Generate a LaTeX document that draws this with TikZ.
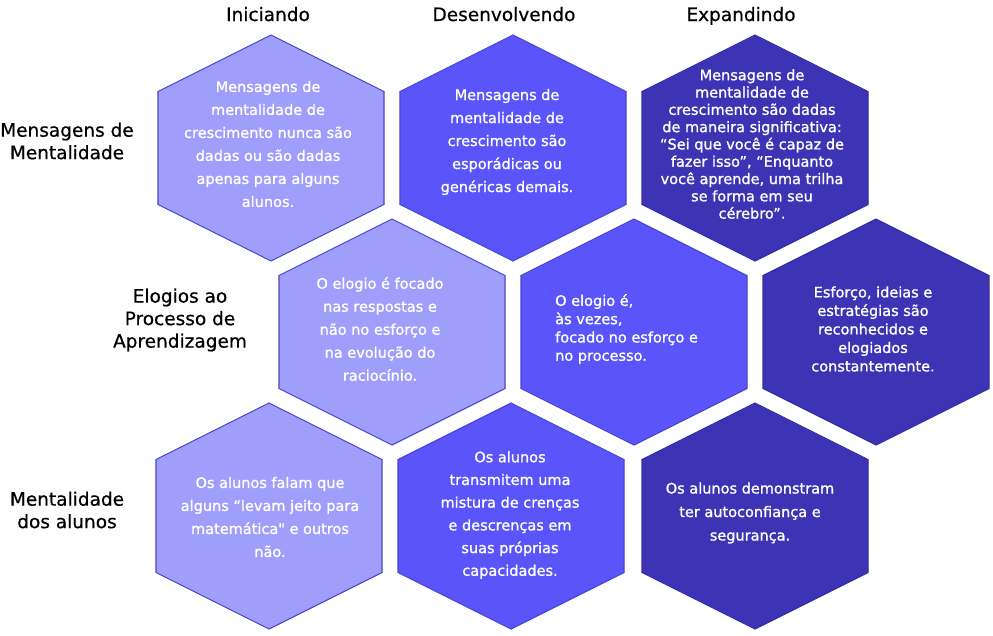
\documentclass[tikz,border=0pt]{standalone}
\usepackage{fontspec}
\setmainfont{DejaVu Sans}
\newfontfamily\cellfont{DejaVu Sans}[FakeBold=1.2]
\newfontfamily\labelfont{DejaVu Sans}[FakeBold=0.6]
\definecolor{hexlight}{HTML}{9F9EFB}
\definecolor{hexmid}{HTML}{5955FA}
\definecolor{hexdark}{HTML}{3C34B4}
\definecolor{edgelight}{HTML}{4B47C8}
\definecolor{edgemid}{HTML}{4844D2}
\definecolor{edgedark}{HTML}{352EA6}
\tikzset{
  hexcell/.style={line width=1.1pt, line join=miter},
  celltext/.style={text=white, align=center, font=\cellfont\fontsize{14.5}{23}\selectfont, inner sep=0pt},
  rowlabel/.style={align=center, font=\labelfont\fontsize{18.5}{22.5}\selectfont, inner sep=0pt},
  collabel/.style={anchor=base, font=\labelfont\fontsize{18.5}{22.5}\selectfont, inner sep=0pt}
}
\begin{document}
\begin{tikzpicture}[x=1pt,y=-1pt]
      \useasboundingbox (0,0) rectangle (993,635);
      \foreach \cx/\cy/\fc/\dc in {271/148/hexlight/edgelight, 513/148/hexmid/edgemid, 755/148/hexdark/edgedark,
                                   392/332/hexlight/edgelight, 634/332/hexmid/edgemid, 876/332/hexdark/edgedark,
                                   269/516/hexlight/edgelight, 511/516/hexmid/edgemid, 755/516/hexdark/edgedark}
        \draw[hexcell, fill=\fc, draw=\dc, shift={(\cx,\cy)}]
          (0,-113) -- (113,-56.5) -- (113,56.5) -- (0,113) -- (-113,56.5) -- (-113,-56.5) -- cycle;
      % column headers
      \node[collabel] (iniciando) at (268,21) {Iniciando};
      \node[collabel] (desenvolvendo) at (504,21) {Desenvolvendo};
      \node[collabel] (expandindo) at (741,21) {Expandindo};
      % row headers
      \node[rowlabel] (mensagens) at (67,141) {Mensagens de\\Mentalidade};
      \node[rowlabel] (elogios) at (180,320) {Elogios ao\\Processo de\\Aprendizagem};
      \node[rowlabel] (mentalidade) at (67,510) {Mentalidade\\dos alunos};
      % cells
      \node[celltext] (m1) at (268,144) {Mensagens de\\mentalidade de\\crescimento nunca são\\dadas ou são dadas\\apenas para alguns\\alunos.};
      \node[celltext] (m2) at (507,142) {Mensagens de\\mentalidade de\\crescimento são\\esporádicas ou\\genéricas demais.};
      \node[celltext, font=\cellfont\fontsize{14.5}{17.3}\selectfont] (m3) at (752,144) {Mensagens de\\mentalidade de\\crescimento são dadas\\de maneira significativa:\\“Sei que você é capaz de\\fazer isso”, “Enquanto\\você aprende, uma trilha\\se forma em seu\\cérebro”.};
      \node[celltext] (e1) at (380,329) {O elogio é focado\\nas respostas e\\não no esforço e\\na evolução do\\raciocínio.};
      \node[celltext, align=left, anchor=west, font=\cellfont\fontsize{14.5}{18.3}\selectfont] (e2) at (555,329) {O elogio é,\\às vezes,\\focado no esforço e\\no processo.};
      \node[celltext, font=\cellfont\fontsize{14.5}{18.5}\selectfont] (e3) at (873,329) {Esforço, ideias e\\estratégias são\\reconhecidos e\\elogiados\\constantemente.};
      \node[celltext] (a1) at (270,517) {Os alunos falam que\\alguns “levam jeito para\\matemática{\char34} e outros\\não.};
      \node[celltext, font=\cellfont\fontsize{14.5}{22.7}\selectfont] (a2) at (510,515) {Os alunos\\transmitem uma\\mistura de crenças\\e descrenças em\\suas próprias\\capacidades.};
      \node[celltext, font=\cellfont\fontsize{14.5}{23.5}\selectfont] (a3) at (750,513) {Os alunos demonstram\\ter autoconfiança e\\segurança.};
    \end{tikzpicture}
\end{document}
